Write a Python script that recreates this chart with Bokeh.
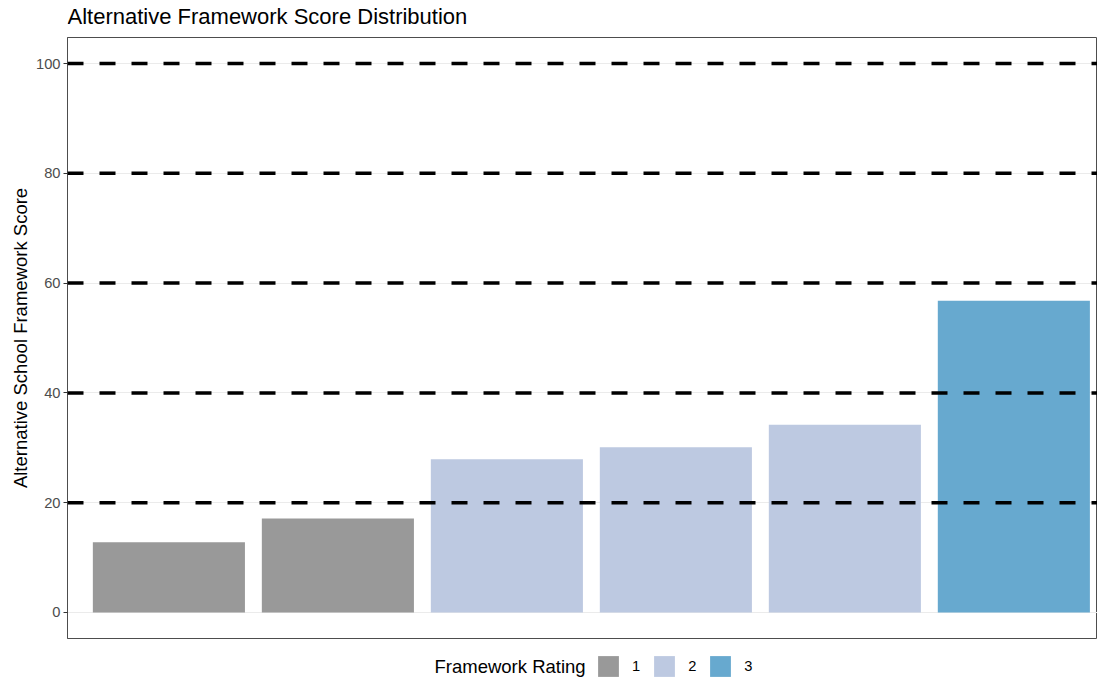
from bokeh.plotting import figure
from bokeh.layouts import column
from bokeh.models import (Range1d, ColumnDataSource, Span, FixedTicker, Legend,
                          LegendItem, Label)
from bokeh.transform import factor_cmap
from bokeh.embed import file_html
from bokeh.resources import INLINE

# ---- data ----
positions = [1, 2, 3, 4, 5, 6]
scores = [12.8, 17.1, 27.9, 30.1, 34.2, 56.8]
ratings = ["1", "1", "2", "2", "2", "3"]
rating_levels = ["1", "2", "3"]
rating_colors = ["#999999", "#BDC9E1", "#67A9CF"]
thresholds = [20, 40, 60, 80, 100]
y_ticks = [0, 20, 40, 60, 80, 100]
chart_title = "Alternative Framework Score Distribution"
legend_title = "Framework Rating"

FONT = "Liberation Sans"


def strip(height):
    f = figure(width=1097, height=height, x_range=Range1d(0, 1),
               y_range=Range1d(0, 1), output_backend="svg",
               toolbar_location=None, min_border_left=0, min_border_right=0,
               min_border_top=0, min_border_bottom=0,
               x_axis_location=None, y_axis_location=None)
    f.grid.grid_line_color = None
    f.outline_line_color = None
    return f


# ---- title strip ----
tf = strip(28)
tf.add_layout(Label(x=0, y=12, x_units="screen", y_units="screen",
                    text=chart_title, text_font=FONT, text_font_size="22px",
                    text_baseline="middle", text_color="black"))

# ---- main plot ----
src = ColumnDataSource(dict(x=positions, top=scores, rating=ratings))

p = figure(width=1097, height=622,
           x_range=Range1d(0.4, 6.495), y_range=Range1d(-4.74, 104.74),
           output_backend="svg", toolbar_location=None,
           min_border_left=67, min_border_right=0, min_border_top=9,
           min_border_bottom=12)

r = p.vbar(x="x", top="top", width=0.9, source=src,
           fill_color=factor_cmap("rating", rating_colors, rating_levels),
           line_color=None)

for t in thresholds:
    p.add_layout(Span(location=t, dimension="width", line_color="black",
                      line_width=3.5, line_dash="16 16"))

p.xaxis.visible = False
p.xgrid.grid_line_color = None
p.yaxis.ticker = FixedTicker(ticks=y_ticks)
p.ygrid.ticker = FixedTicker(ticks=y_ticks)
p.ygrid.grid_line_color = "#EBEBEB"
p.ygrid.grid_line_width = 1.2
p.yaxis.axis_label = "Alternative School Framework Score"
p.yaxis.axis_label_text_font = FONT
p.yaxis.axis_label_text_font_size = "18.5px"
p.yaxis.axis_label_text_font_style = "normal"
p.yaxis.axis_label_text_color = "black"
p.yaxis.axis_label_standoff = 2
p.yaxis.major_label_text_font = FONT
p.yaxis.major_label_text_font_size = "14.7px"
p.yaxis.major_label_text_color = "#4D4D4D"
p.yaxis.major_label_standoff = 3
p.yaxis.major_tick_in = 0
p.yaxis.major_tick_out = 4
p.yaxis.major_tick_line_color = "#333333"
p.yaxis.minor_tick_line_color = None
p.yaxis.axis_line_color = "#4D4D4D"

p.outline_line_color = "#4D4D4D"
p.outline_line_width = 1
p.background_fill_color = "white"

# ---- legend strip ----
lf = strip(30)

# zero-height key bars: only their legend swatches are seen
key_src = ColumnDataSource(dict(x=list(range(len(rating_levels))),
                                top=[0] * len(rating_levels),
                                color=rating_colors))
kr = lf.vbar(x="x", top="top", bottom=0, width=0.9, source=key_src,
             fill_color="color", line_color=None)
items = [LegendItem(label=lv, renderers=[kr], index=i)
         for i, lv in enumerate(rating_levels)]

lg = Legend(items=items, location=(528, 1), orientation="horizontal",
            glyph_width=26, glyph_height=26, label_standoff=11, label_width=0,
            label_height=26, spacing=11, padding=0, margin=0,
            border_line_color=None, background_fill_alpha=0,
            label_text_font=FONT, label_text_font_size="14.7px",
            label_text_color="black")
lf.add_layout(lg)

lf.add_layout(Label(x=367, y=14, x_units="screen", y_units="screen",
                    text=legend_title, text_font=FONT,
                    text_font_size="18.5px", text_baseline="middle",
                    text_color="black"))

layout = column(tf, p, lf, spacing=0)
open("out.html", "w").write(file_html(layout, INLINE))
